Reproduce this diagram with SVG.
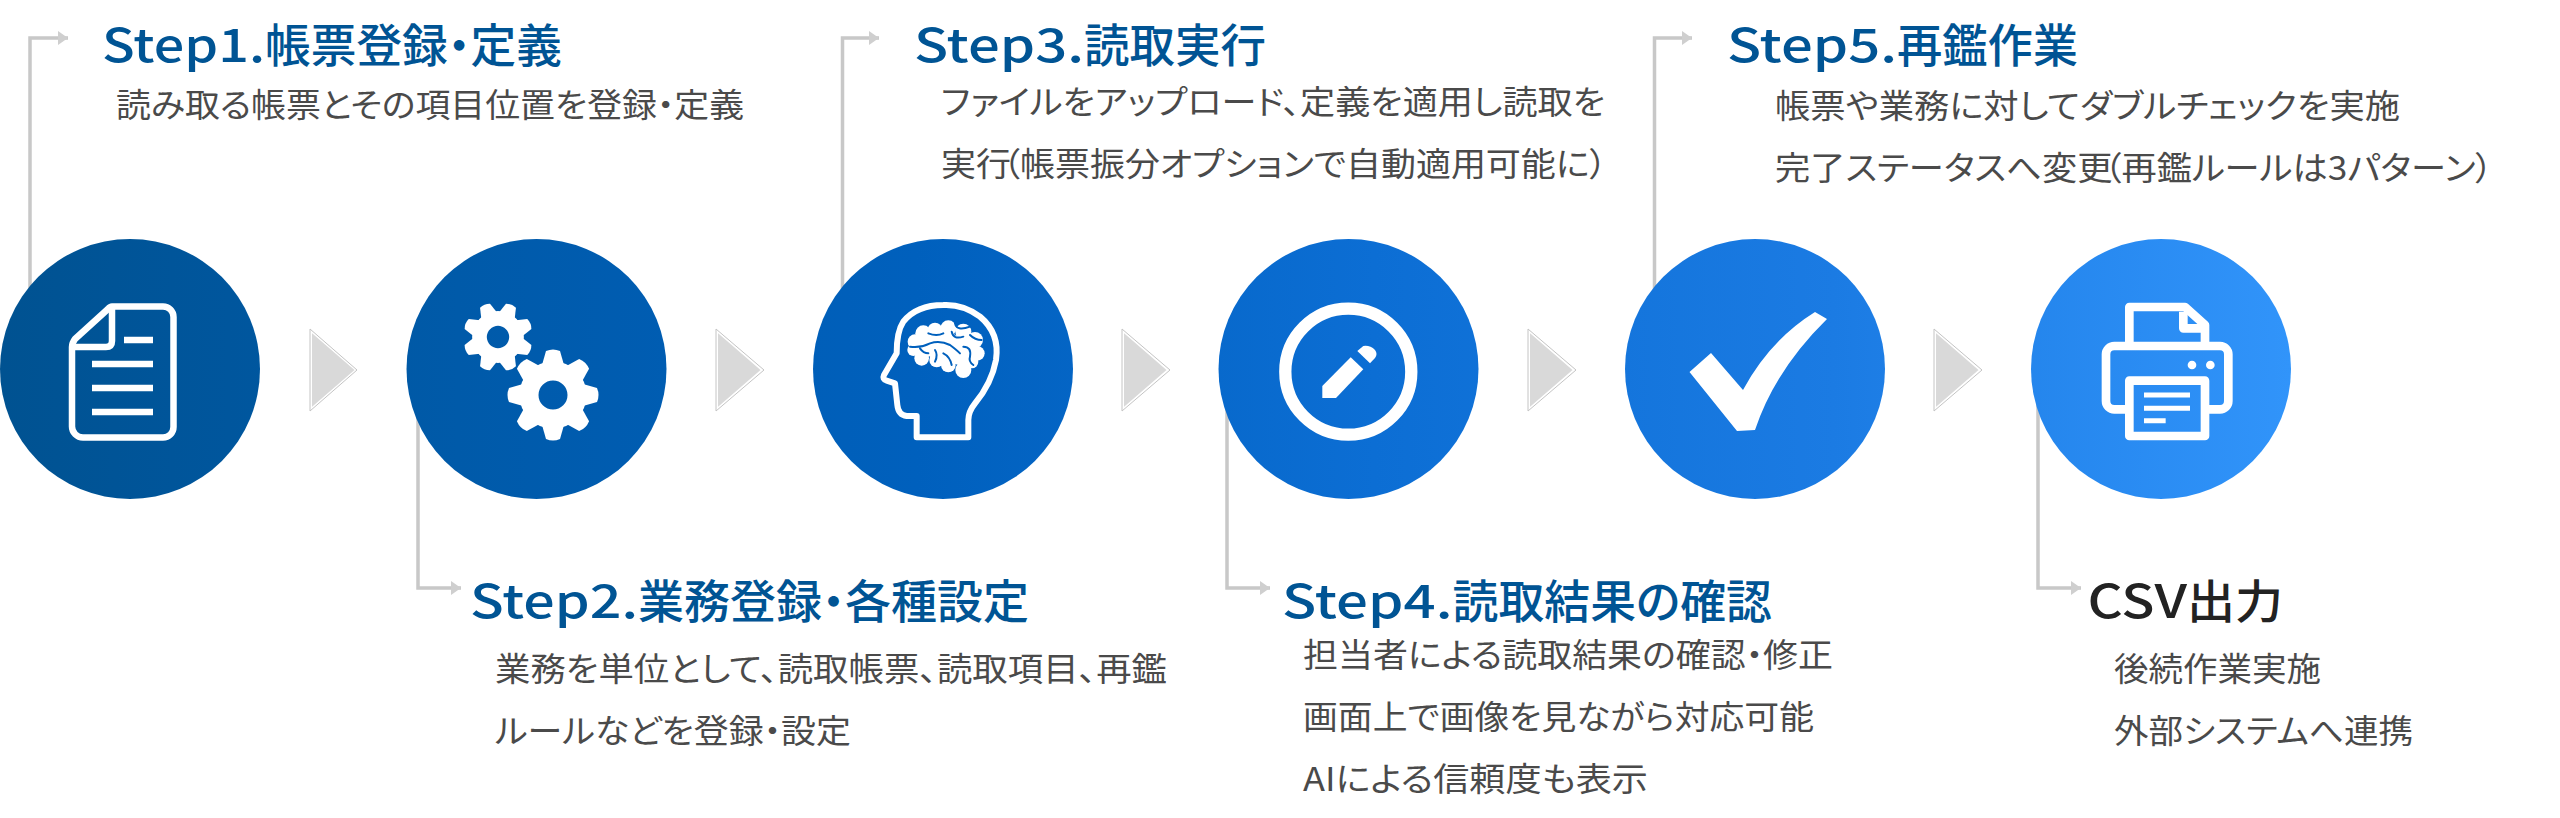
<svg xmlns="http://www.w3.org/2000/svg" width="2560" height="818" viewBox="0 0 2560 818">
<style>
text{font-family:"Noto Sans CJK JP","Noto Sans",sans-serif;font-feature-settings:"palt"}
.t{font-size:46px;font-weight:500;fill:#005494}
.k{font-size:46px;font-weight:500;fill:#222}
.b{font-size:33px;font-weight:400;fill:#4a4a4a}
.line{fill:none;stroke:#c8c8c8;stroke-width:3.500;marker-end:url(#head)}
.tri{fill:#d9d9d9;stroke:#fff;stroke-width:2}
.tro{fill:none;stroke:#c4c4c4;stroke-width:1}
.ic{fill:none;stroke:#fff;stroke-linejoin:round}
.w{fill:#fff}
</style>
<defs>
<linearGradient id="g" gradientUnits="userSpaceOnUse" x1="0" y1="0" x2="2291" y2="0">
<stop offset="0" stop-color="#005291"/><stop offset="0.2" stop-color="#005aa9"/><stop offset="0.4" stop-color="#0060bd"/><stop offset="0.6" stop-color="#0c6ed4"/><stop offset="0.8" stop-color="#1b7be3"/><stop offset="1" stop-color="#3194fa"/>
</linearGradient>
<marker id="head" markerUnits="userSpaceOnUse" markerWidth="12" markerHeight="16" refX="11" refY="8" orient="auto"><path d="M1,1L11,8L1,15Z" fill="#cfcfcf"/></marker>
<g id="gear">
<circle r="24" fill="none" stroke="#fff" stroke-width="19"/>
<path class="w" d="M-11,-30L-7,-44Q0,-47 7,-44L11,-30Z"/>
<path class="w" d="M-11,-30L-7,-44Q0,-47 7,-44L11,-30Z" transform="rotate(45)"/>
<path class="w" d="M-11,-30L-7,-44Q0,-47 7,-44L11,-30Z" transform="rotate(90)"/>
<path class="w" d="M-11,-30L-7,-44Q0,-47 7,-44L11,-30Z" transform="rotate(135)"/>
<path class="w" d="M-11,-30L-7,-44Q0,-47 7,-44L11,-30Z" transform="rotate(180)"/>
<path class="w" d="M-11,-30L-7,-44Q0,-47 7,-44L11,-30Z" transform="rotate(225)"/>
<path class="w" d="M-11,-30L-7,-44Q0,-47 7,-44L11,-30Z" transform="rotate(270)"/>
<path class="w" d="M-11,-30L-7,-44Q0,-47 7,-44L11,-30Z" transform="rotate(315)"/>
</g>
</defs>
<rect width="2560" height="818" fill="#fff"/>
<g id="connectors">
<path class="line" d="M30,300V38H68"/>
<path class="line" d="M418,400V588H461"/>
<path class="line" d="M842.500,300V38H879"/>
<path class="line" d="M1227,400V588H1270"/>
<path class="line" d="M1654.500,300V38H1692"/>
<path class="line" d="M2038,400V588H2081"/>
<g id="flow-arrows">
<path class="tri" d="M311,331L356,370L311,409Z"/><path class="tro" d="M310,329L357,370L310,411Z"/>
<path class="tri" d="M717,331L762,370L717,409Z"/><path class="tro" d="M716,329L764,370L716,411Z"/>
<path class="tri" d="M1123,331L1168,370L1123,409Z"/><path class="tro" d="M1122,329L1170,370L1122,411Z"/>
<path class="tri" d="M1529,331L1574,370L1529,409Z"/><path class="tro" d="M1528,329L1576,370L1528,411Z"/>
<path class="tri" d="M1935,331L1980,370L1935,409Z"/><path class="tro" d="M1934,329L1982,370L1934,411Z"/>
</g>
</g>
<g id="node-step1">
<circle cx="130" cy="369" r="130" fill="url(#g)"/>
<g class="ic" stroke-width="6.500">
<path d="M112,306.500H163A10.500,10.500 0 0 1 173.500,317V427A10.500,10.500 0 0 1 163,437.500H83A11,11 0 0 1 72,426.500V347Q72,343 75,339L108,309Q110,306.500 112,306.500Z"/>
<path d="M112,306.500V341Q112,347 106,347H72"/>
<path d="M124,340H153M92,364H153M92,388H153M92,412H153"/>
</g>
<text class="t" x="102" y="62"><tspan textLength="163" lengthAdjust="spacingAndGlyphs">Step1.</tspan><tspan textLength="297" lengthAdjust="spacingAndGlyphs">帳票登録・定義</tspan></text>
<text class="b" x="116" y="117" textLength="628" lengthAdjust="spacingAndGlyphs">読み取る帳票とその項目位置を登録・定義</text>
</g>
<g id="node-step2">
<circle cx="536.500" cy="369" r="130" fill="url(#g)"/>
<use href="#gear" transform="translate(498,337) rotate(22.500) scale(.77)"/>
<use href="#gear" transform="translate(553,395)"/>
<text class="t" x="470" y="618"><tspan textLength="168" lengthAdjust="spacingAndGlyphs">Step2.</tspan><tspan textLength="391" lengthAdjust="spacingAndGlyphs">業務登録・各種設定</tspan></text>
<text class="b" x="495" y="681" textLength="672" lengthAdjust="spacingAndGlyphs">業務を単位として、読取帳票、読取項目、再鑑</text>
<text class="b" x="495" y="743" textLength="356" lengthAdjust="spacingAndGlyphs">ルールなどを登録・設定</text>
</g>
<g id="node-step3">
<circle cx="943" cy="369" r="130" fill="url(#g)"/>
<g transform="translate(860,290) scale(.33333)">
<path class="ic" stroke-width="18" d="M170,442H325V390Q325,365 345,340Q395,280 408,210Q420,130 360,80Q310,42 250,45Q170,45 130,95Q110,125 110,190L72,255Q66,268 80,272L105,280L112,345Q115,375 140,378H170Z"/>
<g class="w">
<circle cx="165" cy="155" r="22"/><circle cx="190" cy="130" r="24"/><circle cx="225" cy="120" r="22"/><circle cx="265" cy="115" r="24"/><circle cx="310" cy="125" r="24"/><circle cx="345" cy="150" r="24"/><circle cx="352" cy="190" r="22"/><circle cx="335" cy="215" r="20"/><circle cx="310" cy="240" r="24"/><circle cx="265" cy="225" r="22"/><circle cx="230" cy="210" r="22"/><circle cx="185" cy="205" r="22"/><circle cx="160" cy="180" r="18"/><circle cx="250" cy="170" r="50"/><circle cx="300" cy="180" r="45"/><circle cx="200" cy="165" r="35"/>
</g>
<path fill="none" stroke="#0060bd" stroke-width="6" stroke-linecap="round" d="M150,170Q180,175 210,160Q240,150 270,165Q290,180 300,190M205,130Q230,140 250,130M275,125Q280,150 310,140M250,190Q270,200 275,225M310,170Q335,170 330,200Q325,215 340,225M180,175Q190,190 205,190M225,180Q235,195 225,215M285,100Q290,125 330,110M330,135Q345,150 365,150"/>
</g>
<text class="t" x="914" y="62"><tspan textLength="170" lengthAdjust="spacingAndGlyphs">Step3.</tspan><tspan textLength="182" lengthAdjust="spacingAndGlyphs">読取実行</tspan></text>
<text class="b" x="941" y="114" textLength="664" lengthAdjust="spacingAndGlyphs">ファイルをアップロード、定義を適用し読取を</text>
<text class="b" x="941" y="176" textLength="666" lengthAdjust="spacingAndGlyphs">実行<tspan dx="-8">（</tspan>帳票振分オプションで自動適用可能に）</text>
</g>
<g id="node-step4">
<circle cx="1348.500" cy="369" r="130" fill="url(#g)"/>
<circle class="ic" cx="1348.300" cy="371.700" r="63" stroke-width="12.300"/>
<path class="w" d="M1322.300,386L1350.700,357.300L1363.300,369.300L1336,398H1322.300Z"/>
<path class="w" d="M1357.300,351L1363.300,346Q1370,345 1375,350Q1378,354 1375,358L1370,363.300Z"/>
<text class="t" x="1282" y="618"><tspan textLength="170.500" lengthAdjust="spacingAndGlyphs">Step4.</tspan><tspan textLength="319.500" lengthAdjust="spacingAndGlyphs">読取結果の確認</tspan></text>
<text class="b" x="1303" y="667" textLength="530" lengthAdjust="spacingAndGlyphs">担当者による読取結果の確認・修正</text>
<text class="b" x="1303" y="729" textLength="511" lengthAdjust="spacingAndGlyphs">画面上で画像を見ながら対応可能</text>
<text class="b" x="1303" y="791" textLength="345" lengthAdjust="spacingAndGlyphs">AIによる信頼度も表示</text>
</g>
<g id="node-step5">
<circle cx="1755" cy="369" r="130" fill="url(#g)"/>
<path class="w" d="M1689.500,372L1711,353L1743,390Q1770,340 1815,312L1827,319Q1775,370 1755,430L1737,431Z"/>
<text class="t" x="1727" y="62"><tspan textLength="170" lengthAdjust="spacingAndGlyphs">Step5.</tspan><tspan textLength="181" lengthAdjust="spacingAndGlyphs">再鑑作業</tspan></text>
<text class="b" x="1775" y="118" textLength="625" lengthAdjust="spacingAndGlyphs">帳票や業務に対してダブルチェックを実施</text>
<text class="b" x="1775" y="180" textLength="718" lengthAdjust="spacingAndGlyphs">完了ステータスへ変更<tspan dx="-8">（</tspan>再鑑ルールは3パターン）</text>
</g>
<g id="node-output">
<circle cx="2161" cy="369" r="130" fill="url(#g)"/>
<g transform="translate(2080,290) scale(.33333)">
<g class="ic" stroke-width="26">
<path d="M148,160V51H315L375,105V160"/>
<path d="M310,65V115H375"/>
<path d="M148,358H103A25,25 0 0 1 78,333V193A25,25 0 0 1 103,168H420A25,25 0 0 1 445,193V333A25,25 0 0 1 420,358H375"/>
<path d="M148,272H375V438H148Z"/>
</g>
<path class="ic" stroke-width="15" d="M192,315H330M192,355H330M192,392H257"/>
<circle class="w" cx="336" cy="225" r="13"/><circle class="w" cx="391" cy="225" r="13"/>
</g>
<text class="k" x="2087.500" y="618"><tspan textLength="99.500" lengthAdjust="spacingAndGlyphs">CSV</tspan><tspan textLength="96" lengthAdjust="spacingAndGlyphs">出力</tspan></text>
<text class="b" x="2114" y="681" textLength="207" lengthAdjust="spacingAndGlyphs">後続作業実施</text>
<text class="b" x="2114" y="743" textLength="299" lengthAdjust="spacingAndGlyphs">外部システムへ連携</text>
</g>
</svg>
